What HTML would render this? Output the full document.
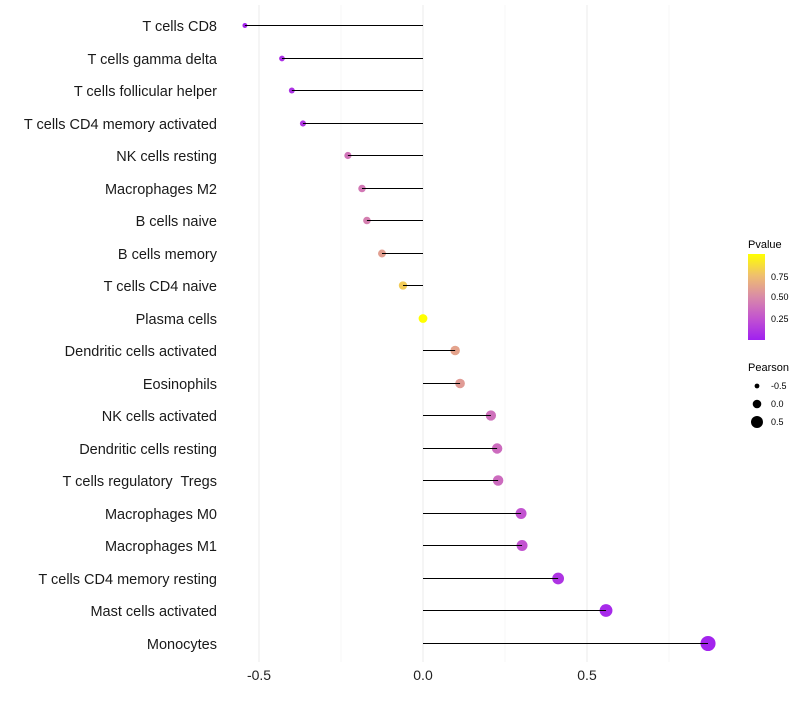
<!DOCTYPE html>
<html><head><meta charset="utf-8"><style>body{margin:0;background:#fff;font-family:"Liberation Sans",sans-serif}text{white-space:pre}</style></head>
<body>
<svg id="c" width="800" height="700">
<defs><linearGradient id="pg" x1="0" y1="1" x2="0" y2="0">
<stop offset="0" stop-color="#a020f0"/><stop offset="0.25" stop-color="#c253d0"/><stop offset="0.5" stop-color="#d98aa8"/><stop offset="0.75" stop-color="#efbf6e"/><stop offset="1" stop-color="#ffff00"/></linearGradient></defs>
<g id="grid"></g><g id="marks"></g><g id="labels"></g>
<g>
<text x="748" y="248" font-size="11">Pvalue</text>
<rect x="748" y="254" width="17" height="86" fill="url(#pg)"/>
<text x="771" y="280" font-size="9">0.75</text><text x="771" y="300" font-size="9">0.50</text><text x="771" y="322" font-size="9">0.25</text>
</g>
<g>
<text x="748" y="371" font-size="11">Pearson</text>
<circle cx="757" cy="386" r="2.4"/><text x="771" y="389" font-size="9">-0.5</text>
<circle cx="757" cy="404" r="4.3"/><text x="771" y="407" font-size="9">0.0</text>
<circle cx="757" cy="422" r="6"/><text x="771" y="425" font-size="9">0.5</text>
</g>
</svg>
<script>
const categories=["T cells CD8","T cells gamma delta","T cells follicular helper","T cells CD4 memory activated","NK cells resting","Macrophages M2","B cells naive","B cells memory","T cells CD4 naive","Plasma cells","Dendritic cells activated","Eosinophils","NK cells activated","Dendritic cells resting","T cells regulatory  Tregs","Macrophages M0","Macrophages M1","T cells CD4 memory resting","Mast cells activated","Monocytes"];
const pearson=[-0.543,-0.43,-0.40,-0.366,-0.229,-0.186,-0.171,-0.125,-0.061,0.0,0.098,0.113,0.207,0.226,0.229,0.299,0.302,0.412,0.558,0.869];
const pvalues=[0.02,0.08,0.09,0.12,0.4,0.42,0.45,0.6,0.8,1.0,0.62,0.58,0.38,0.36,0.36,0.25,0.25,0.1,0.05,0.02];
const tickValues=[-0.5,0,0.5];
const tickLabels=["-0.5","0.0","0.5"];
const NS="http://www.w3.org/2000/svg";
const x=v=>423+v*328;
const y=i=>Math.round(25+i*32.5)+0.5;
const r=v=>4.4+3.6*v;
const stops=[[0,[160,32,240]],[0.25,[194,83,208]],[0.5,[217,138,168]],[0.75,[239,191,110]],[1,[255,255,0]]];
function col(p){for(let k=1;k<stops.length;k++){if(p<=stops[k][0]){const a=stops[k-1],b=stops[k],t=(p-a[0])/(b[0]-a[0]);return "rgb("+a[1].map((c,j)=>Math.round(c+(b[1][j]-c)*t)).join(",")+")";}}return "rgb(255,255,0)";}
function mk(t,at,parent){const e=document.createElementNS(NS,t);for(const k in at)e.setAttribute(k,at[k]);document.getElementById(parent).appendChild(e);return e;}
[-0.25,0.25,0.75].forEach(v=>{const l=mk("line",{x1:x(v),x2:x(v),y1:5,y2:662,stroke:"#f2f2f2","stroke-width":0.6},"grid");

});
tickValues.forEach((v,i)=>{const l=mk("line",{x1:x(v),x2:x(v),y1:5,y2:662,stroke:"#ebebeb","stroke-width":1},"grid");


const t=mk("text",{x:x(v),y:680,"font-size":14,"text-anchor":"middle",fill:"#222"},"labels");t.textContent=tickLabels[i];

});
categories.forEach((c,i)=>{
const t=mk("text",{x:217,y:y(i)+5.5,"font-size":14.5,"text-anchor":"end",fill:"#1a1a1a"},"labels");t.textContent=c;


const p=mk("circle",{cx:x(pearson[i]),cy:y(i),r:r(pearson[i]),fill:col(pvalues[i])},"marks");


const l=mk("line",{x1:x(0),x2:x(pearson[i]),y1:y(i),y2:y(i),stroke:"#000","stroke-width":1},"marks");


});
</script>
</body></html>
